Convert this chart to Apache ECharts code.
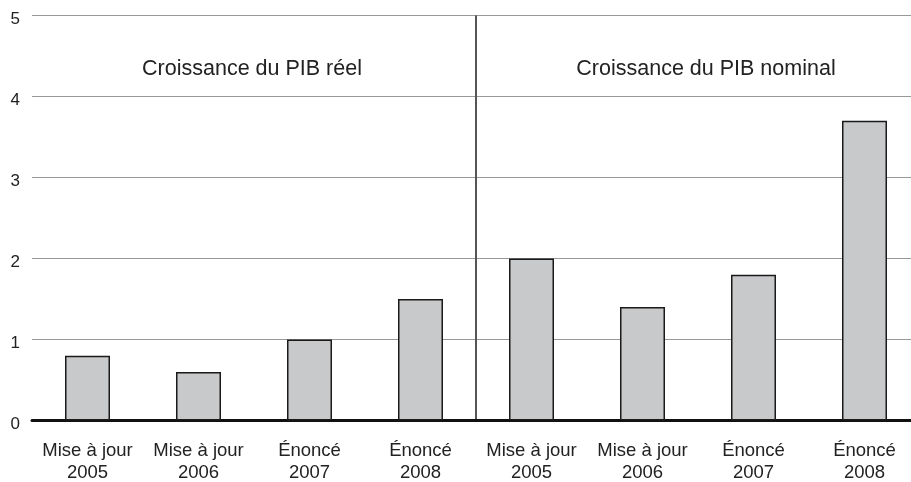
<!DOCTYPE html>
<html><head><meta charset="utf-8">
<script src="https://cdn.jsdelivr.net/npm/echarts@6/dist/echarts.min.js"></script>
<style>html,body{margin:0;padding:0;background:#fff}#c{width:911px;height:482px}</style>
</head><body><div id="c"></div>
<script>
const categories = ['Mise à jour\n2005','Mise à jour\n2006','Énoncé\n2007','Énoncé\n2008','Mise à jour\n2005','Mise à jour\n2006','Énoncé\n2007','Énoncé\n2008'];
const values = [0.8, 0.6, 1.0, 1.5, 2.0, 1.4, 1.8, 3.7];
const groupTitles = ['Croissance du PIB réel', 'Croissance du PIB nominal'];
const yTicks = [0, 1, 2, 3, 4, 5];

const chart = echarts.init(document.getElementById('c'), null, {renderer:'canvas'});
const font = 'Liberation Sans, Arial, Helvetica, sans-serif';
chart.setOption({
  animation:false,
  textStyle:{fontFamily:font},
  grid:{left:32, top:15.5, right:-9, height:405, containLabel:false, outerBoundsMode:'none'},
  title:[
    {text:groupTitles[0], left:247, top:53, textAlign:'center', textStyle:{fontSize:21.5, fontWeight:'normal', color:'#222', fontFamily:font}},
    {text:groupTitles[1], left:701, top:53, textAlign:'center', textStyle:{fontSize:21.5, fontWeight:'normal', color:'#222', fontFamily:font}}
  ],
  xAxis:[
    {type:'category', data:categories, axisTick:{show:false},
     axisLine:{show:true, lineStyle:{color:'#111', width:3}},
     axisLabel:{color:'#222', fontSize:18.5, lineHeight:22, margin:19, interval:0, fontFamily:font}},
    {type:'value', min:0, max:8, interval:4, show:true, position:'bottom',
     axisLine:{show:false}, axisTick:{show:false}, axisLabel:{show:false},
     splitLine:{show:true, lineStyle:{color:['rgba(0,0,0,0)','#555','rgba(0,0,0,0)'], width:2}}}
  ],
  yAxis:{type:'value', min:yTicks[0], max:yTicks[yTicks.length-1], interval:1,
    axisLine:{show:false}, axisTick:{show:false},
    axisLabel:{color:'#222', fontSize:17, margin:12, fontFamily:font,
      formatter: v => '{a|' + v + '}',
      rich:{a:{fontSize:17, color:'#222', fontFamily:font, padding:[8,0,0,0]}}},
    splitLine:{show:true, lineStyle:{color:'#999', width:1}}},
  series:[{type:'bar', xAxisIndex:0, data:values, barWidth:45,
    itemStyle:{color:'#c8c9cb', borderColor:'#1a1a1a', borderWidth:1.5}}]
});
</script></body></html>
